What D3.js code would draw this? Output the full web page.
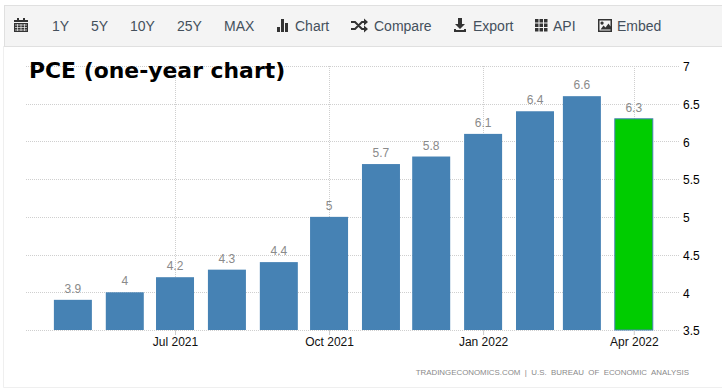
<!DOCTYPE html>
<html>
<head>
<meta charset="utf-8">
<script src="https://cdn.jsdelivr.net/npm/d3@7"></script>
<style>
  html, body { margin: 0; padding: 0; background: #fff; }
  svg { display: block; }
  text { font-family: "Liberation Sans", Arial, sans-serif; }
  .grid line { stroke: #cfcfcf; stroke-dasharray: 1 1; }
</style>
</head>
<body>
<div class="container"></div>
<script>
const WIDTH = 722;
const HEIGHT = 389;

const months = ['2021-05-01', '2021-06-01', '2021-07-01', '2021-08-01', '2021-09-01', '2021-10-01',
  '2021-11-01', '2021-12-01', '2022-01-01', '2022-02-01', '2022-03-01', '2022-04-01'];
const values = [3.9, 4, 4.2, 4.3, 4.4, 5, 5.7, 5.8, 6.1, 6.4, 6.6, 6.3];
const valueLabels = ['3.9', '4', '4.2', '4.3', '4.4', '5', '5.7', '5.8', '6.1', '6.4', '6.6', '6.3'];
const yTicks = [3.5, 4, 4.5, 5, 5.5, 6, 6.5, 7];
const xTicks = ['2021-07-01', '2021-10-01', '2022-01-01', '2022-04-01'];
const xTickLabels = ['Jul 2021', 'Oct 2021', 'Jan 2022', 'Apr 2022'];
const rangeButtons = [['1Y', 52], ['5Y', 91], ['10Y', 130], ['25Y', 177], ['MAX', 224]];
const toolButtons = [['Chart', 295], ['Compare', 374], ['Export', 473], ['API', 553], ['Embed', 617]];

const parseDate = d3.utcParse('%Y-%m-%d');

const x = d3.scaleUtc()
  .domain([parseDate('2021-04-03'), parseDate('2022-04-28')])
  .range([26, 679]);
const y = d3.scaleLinear().domain([3.5, 7]).range([330, 66]);

const svg = d3.select('.container').append('svg')
  .attr('width', WIDTH)
  .attr('height', HEIGHT);

// outer frame and toolbar
svg.append('path')
  .attr('d', 'M3.5 46V387.5H722')
  .attr('fill', 'none')
  .attr('stroke', '#efefef');
svg.append('rect')
  .attr('x', 4.5).attr('y', 5.5)
  .attr('width', 720).attr('height', 41)
  .attr('fill', '#f4f4f4')
  .attr('stroke', '#e0e0e0');

const toolColor = '#333';
const toolbar = svg.append('g').attr('font-size', 14).attr('fill', '#44505c');
toolbar.selectAll('text.range')
  .data(rangeButtons)
  .enter().append('text')
  .classed('range', true)
  .attr('x', function (d) { return d[1]; })
  .attr('y', 31)
  .text(function (d) { return d[0]; });
toolbar.selectAll('text.tool')
  .data(toolButtons)
  .enter().append('text')
  .classed('tool', true)
  .attr('x', function (d) { return d[1]; })
  .attr('y', 31)
  .text(function (d) { return d[0]; });

// toolbar icons
const icons = svg.append('g').attr('fill', toolColor);
// calendar
icons.append('path').attr('d', 'M14 20h14v2H14zM14 23h14v9H14z');
icons.append('path').attr('d', 'M17 18h2v3h-2zM23 18h2v3h-2z');
icons.append('path').attr('d', 'M15 25h12M15 27.5h12M15 30h12M17.5 24v7M21 24v7M24.5 24v7')
  .attr('stroke', '#f4f4f4').attr('stroke-width', 0.7).attr('fill', 'none');
// bars
icons.append('path').attr('d', 'M277 27h3v5h-3zM281 19h3v13h-3zM285 23h3v9h-3z');
// shuffle
icons.append('path')
  .attr('d', 'M351 22h4l7 7h3M351 29h4l7-7h3')
  .attr('fill', 'none').attr('stroke', toolColor).attr('stroke-width', 2);
icons.append('path').attr('d', 'M364 18.5l4 3.5-4 3.5zM364 25.5l4 3.5-4 3.5z');
// export
icons.append('path').attr('d', 'M458 18h4v6h3l-5 5-5-5h3zM454 29h2v1h8v-1h2v3h-12z');
// api grid
icons.append('path').attr('d', 'M535 19h3.5v3.5H535zM539.5 19H543v3.5h-3.5zM544 19h3.5v3.5H544zM535 23.5h3.5V27H535zM539.5 23.5H543V27h-3.5zM544 23.5h3.5V27H544zM535 28h3.5v3.5H535zM539.5 28H543v3.5h-3.5zM544 28h3.5v3.5H544z');
// embed
icons.append('path').attr('d', 'M598 19h14v13h-14zM599.5 20.5v10h11v-10zM600.5 29.5l3-4 2 2 3-4 2 3v3zM602 21.5a1.6 1.6 0 1 0 .1 0z')
  .attr('fill-rule', 'evenodd');

// gridlines
const grid = svg.append('g').classed('grid', true);
grid.selectAll('line.h')
  .data(yTicks)
  .enter().append('line')
  .classed('h', true)
  .attr('x1', 26).attr('x2', 680)
  .attr('y1', function (d) { return Math.round(y(d)) + 0.5; })
  .attr('y2', function (d) { return Math.round(y(d)) + 0.5; });
grid.selectAll('line.v')
  .data(xTicks)
  .enter().append('line')
  .classed('v', true)
  .attr('x1', function (d) { return Math.round(x(parseDate(d))) + 0.5; })
  .attr('x2', function (d) { return Math.round(x(parseDate(d))) + 0.5; })
  .attr('y1', 66).attr('y2', 330);

// bars
const barWidth = 38;
const lastIndex = months.length - 1;
svg.append('g').selectAll('rect')
  .data(values)
  .enter().append('rect')
  .attr('x', function (d, i) { return x(parseDate(months[i])) - barWidth / 2; })
  .attr('width', barWidth)
  .attr('y', function (d) { return y(d); })
  .attr('height', function (d) { return y(3.5) - y(d); })
  .attr('fill', function (d, i) { return i === lastIndex ? '#00cc00' : '#4682b4'; })
  .attr('stroke', function (d, i) { return i === lastIndex ? '#4682b4' : 'none'; });

// bar value labels
svg.append('g').selectAll('text')
  .data(values)
  .enter().append('text')
  .attr('x', function (d, i) { return x(parseDate(months[i])); })
  .attr('y', function (d) { return y(d) - 7; })
  .attr('text-anchor', 'middle')
  .attr('font-size', 12)
  .attr('fill', '#8a8a8a')
  .text(function (d, i) { return valueLabels[i]; });

// x axis
const xAxis = d3.axisBottom(x)
  .tickValues(xTicks.map(parseDate))
  .tickSize(5)
  .tickFormat(function (d, i) { return xTickLabels[i]; });
const xGroup = svg.append('g')
  .attr('transform', 'translate(0,330)')
  .call(xAxis);
xGroup.select('.domain').remove();
xGroup.selectAll('line').attr('stroke', '#ccc');
xGroup.selectAll('text')
  .attr('font-size', 12)
  .attr('font-family', '"Liberation Sans", Arial, sans-serif')
  .attr('fill', '#111')
  .attr('y', 7);

// y axis
const yAxis = d3.axisRight(y)
  .tickValues(yTicks)
  .tickSize(0)
  .tickFormat(function (d) { return String(d); });
const yGroup = svg.append('g')
  .attr('transform', 'translate(680,1)')
  .call(yAxis);
yGroup.select('.domain').remove();
yGroup.selectAll('text')
  .attr('font-size', 12)
  .attr('font-family', '"Liberation Sans", Arial, sans-serif')
  .attr('fill', '#000')
  .attr('x', 3);

// title
svg.append('text')
  .attr('x', 29)
  .attr('y', 78)
  .attr('font-size', 21.9)
  .attr('font-weight', 'bold')
  .style('font-family', '"DejaVu Sans", Verdana, sans-serif')
  .attr('fill', '#000')
  .text('PCE (one-year chart)');

// source line
svg.append('text')
  .attr('x', 689)
  .attr('y', 375)
  .attr('text-anchor', 'end')
  .attr('font-size', 7.9)
  .attr('word-spacing', 2.2)
  .attr('fill', '#8a8a8a')
  .text('TRADINGECONOMICS.COM | U.S. BUREAU OF ECONOMIC ANALYSIS');
</script>
</body>
</html>
